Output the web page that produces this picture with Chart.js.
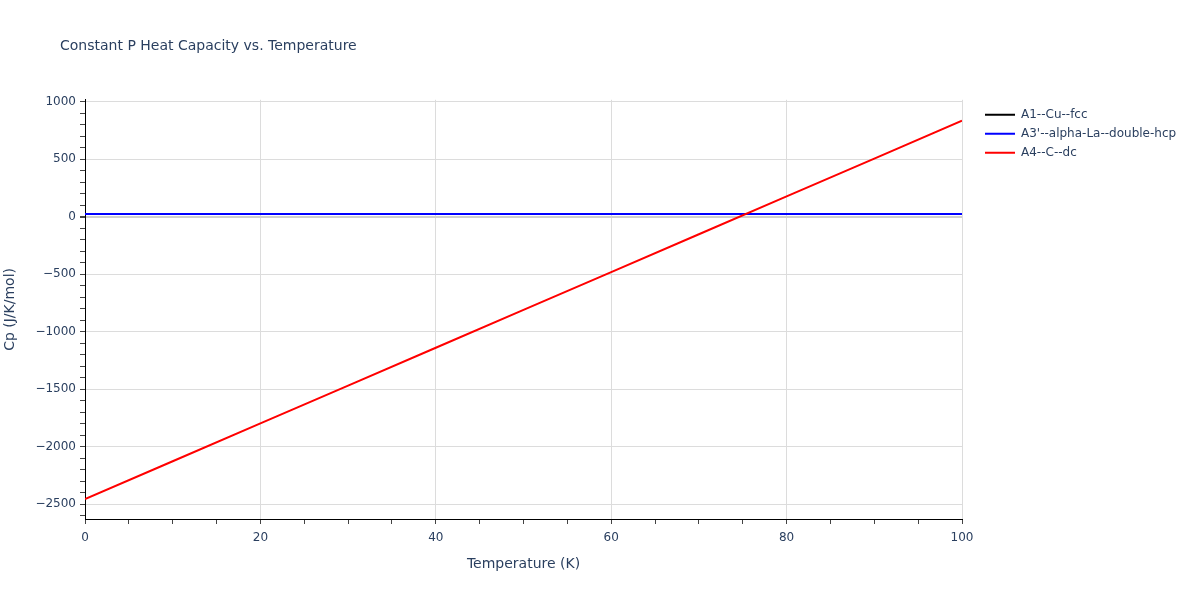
<!DOCTYPE html>
<html>
<head>
<meta charset="utf-8">
<script src="https://cdn.jsdelivr.net/npm/chart.js@4"></script>
<style>
  html, body { margin: 0; padding: 0; background: #fff; }
  #wrap { width: 1200px; height: 600px; }
</style>
</head>
<body>
<div id="wrap"><canvas id="cp-chart" width="1200" height="600"></canvas></div>
<script>
// temperature grid (K) and Cp values (J/K/mol)
const temperatures = [0, 10, 20, 30, 40, 50, 60, 70, 80, 90, 100];
const cpCuFcc = [25, 25, 25, 25, 25, 25, 25, 25, 25, 25, 25];
const cpAlphaLa = [25, 25, 25, 25, 25, 25, 25, 25, 25, 25, 25];
const cpCarbonDc = [-2455, -2126, -1797, -1468, -1139, -810, -481, -152, 177, 506, 835];

const seriesNames = ['A1--Cu--fcc', "A3'--alpha-La--double-hcp", 'A4--C--dc'];
const seriesColors = ['#000000', '#0000ff', '#ff0000'];

const xTicksMajor = [0, 20, 40, 60, 80, 100];
const yTicksMajor = [-2500, -2000, -1500, -1000, -500, 0, 500, 1000];

const FONT = "'DejaVu Sans', verdana, arial, sans-serif";
const TEXT_COLOR = '#2a3f5f';
const GRID_COLOR = '#dcdcdc';

function toPoints(values) {
    return temperatures.map((t, i) => ({ x: t, y: values[i] }));
}

function fmt(v) {
    return v < 0 ? '\u2212' + Math.abs(v) : String(v);
}

// nudge title and legend to where the original puts them
const placeBlocks = {
    id: 'placeBlocks',
    afterLayout(chart) {
        if (chart.titleBlock) {
            chart.titleBlock.left = 60;
        }
        const legend = chart.legend;
        if (legend) {
            legend.left = chart.chartArea.right + 16;
            legend.right = chart.width;
            legend.width = legend.right - legend.left;
            legend.top = chart.chartArea.top + 2;
            legend.bottom = chart.chartArea.bottom;
            legend.height = legend.bottom - legend.top;
        }
    }
};

const ctx = document.getElementById('cp-chart').getContext('2d');
const chart = new Chart(ctx, {
    type: 'line',
    data: {
        datasets: seriesNames.map((name, i) => ({
            label: name,
            data: toPoints([cpCuFcc, cpAlphaLa, cpCarbonDc][i]),
            borderColor: seriesColors[i],
            backgroundColor: seriesColors[i],
            pointBorderWidth: 2,
            order: 3 - i,
        })),
    },
    options: {
        responsive: false,
        animation: false,
        events: [],
        elements: {
            line: { borderWidth: 2, tension: 0, fill: false },
            point: { radius: 0 },
        },
        layout: {
            padding: { left: 0, right: 58, top: 0, bottom: 0 },
        },
        scales: {
            x: {
                type: 'linear',
                min: 0,
                max: 100,
                afterBuildTicks: (scale) => {
                    const ticks = [];
                    for (let v = 0; v <= 100; v += 5) ticks.push({ value: v });
                    scale.ticks = ticks;
                },
                afterFit: (scale) => { scale.height = 81; },
                border: { display: true, color: '#000000', width: 1 },
                grid: {
                    color: (c) => (xTicksMajor.includes(c.tick.value) && c.tick.value !== 0 ? GRID_COLOR : 'rgba(0,0,0,0)'),
                    tickColor: '#444444',
                    tickLength: 5,
                    drawTicks: true,
                },
                ticks: {
                    autoSkip: false,
                    maxRotation: 0,
                    padding: 7,
                    color: TEXT_COLOR,
                    font: { family: FONT, size: 12 },
                    callback: (v) => (xTicksMajor.includes(v) ? fmt(v) : ''),
                },
                title: {
                    display: true,
                    text: 'Temperature (K)',
                    color: TEXT_COLOR,
                    font: { family: FONT, size: 14 },
                    padding: { top: 4, bottom: 27 },
                },
            },
            y: {
                type: 'linear',
                min: -2628,
                max: 1017,
                afterBuildTicks: (scale) => {
                    const ticks = [];
                    for (let v = -2600; v <= 1000; v += 100) ticks.push({ value: v });
                    scale.ticks = ticks;
                },
                afterFit: (scale) => { scale.width = 85; },
                border: { display: true, color: '#000000', width: 1 },
                grid: {
                    color: (c) => {
                        const v = c.tick.value;
                        if (v === 0) return '#cfcfcf';
                        return yTicksMajor.includes(v) ? GRID_COLOR : 'rgba(0,0,0,0)';
                    },
                    lineWidth: (c) => (c.tick.value === 0 ? 2 : 1),
                    tickColor: '#444444',
                    tickLength: 5,
                    drawTicks: true,
                },
                ticks: {
                    autoSkip: false,
                    padding: 4,
                    color: TEXT_COLOR,
                    font: { family: FONT, size: 12 },
                    callback: (v) => (yTicksMajor.includes(v) ? fmt(v) : ''),
                },
                title: {
                    display: true,
                    text: 'Cp (J/K/mol)',
                    color: TEXT_COLOR,
                    font: { family: FONT, size: 14 },
                    padding: { top: 2, bottom: 0 },
                },
            },
        },
        plugins: {
            title: {
                display: true,
                text: 'Constant P Heat Capacity vs. Temperature',
                align: 'start',
                color: TEXT_COLOR,
                font: { family: FONT, size: 14, weight: 'normal' },
                padding: { top: 38, bottom: 45 },
            },
            legend: {
                display: true,
                position: 'right',
                align: 'start',
                maxWidth: 180,
                labels: {
                    usePointStyle: true,
                    pointStyle: 'line',
                    pointStyleWidth: 30,
                    boxHeight: 12,
                    padding: 7,
                    color: TEXT_COLOR,
                    font: { family: FONT, size: 12 },
                    sort: (a, b) => a.datasetIndex - b.datasetIndex,
                },
            },
            tooltip: { enabled: false },
        },
    },
    plugins: [placeBlocks],
});
</script>
</body>
</html>
